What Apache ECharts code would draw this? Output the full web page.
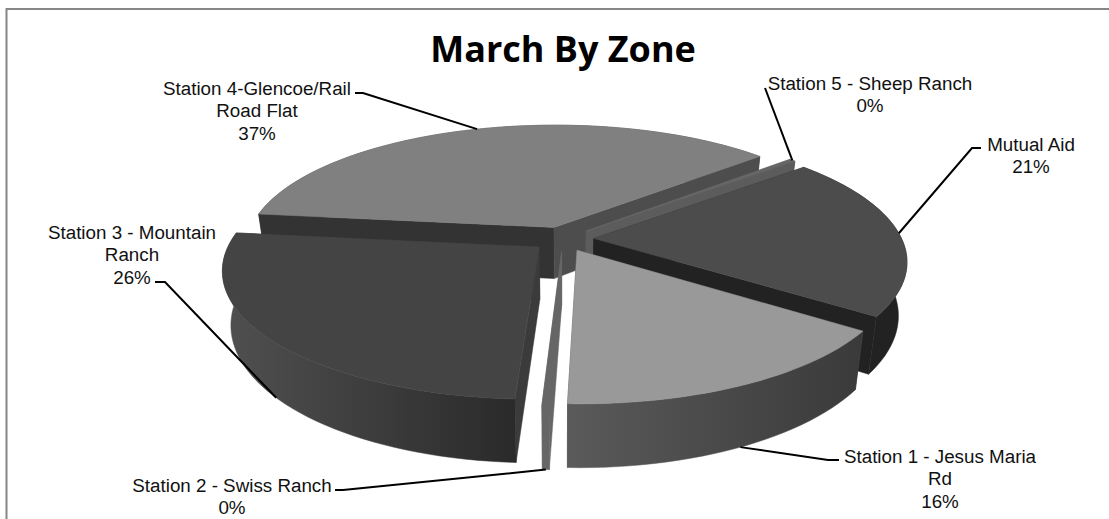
<!DOCTYPE html>
<html>
<head>
<meta charset="utf-8">
<style>html,body{margin:0;padding:0;background:#fff}#chart{width:1109px;height:519px}</style>
<script src="https://cdn.jsdelivr.net/npm/echarts@6/dist/echarts.min.js"></script>
</head>
<body>
<div id="chart"></div>
<script>
const categories = ['Station 1 - Jesus Maria\nRd', 'Station 2 - Swiss Ranch', 'Station 3 - Mountain\nRanch', 'Station 4-Glencoe/Rail\nRoad Flat', 'Station 5 - Sheep Ranch', 'Mutual Aid']
const values = [15.8, 0.3, 26.0, 36.7, 0.4, 20.8]

// back to front
const drawOrder = [3, 4, 5, 2, 0, 1]
const topColors = ['#999999', '#666666', '#444444', '#808080', '#666666', '#4c4c4c']
const arcColors = [['#5a5a5a', '#3a3a3a'], ['#666666', '#666666'], ['#505050', '#2a2a2a'], ['#4d4d4d', '#4d4d4d'], ['#5c5c5c', '#5c5c5c'], ['#222222', '#222222']]
const startEdgeColors = ['#555555', '#666666', '#3b3b3b', '#333333', '#5c5c5c', '#3a3a3a']
const endEdgeColors = ['#555555', '#666666', '#3b3b3b', '#4d4d4d', '#5c5c5c', '#222222']

// label placement: text centre x, first line y, then leader elbow points
const labelBoxes = [
  { x: 940, y: 445, leader: [[828, 460], [839, 460]], base: true },
  { x: 232, y: 474, leader: [[343, 490], [335, 490]], base: true },
  { x: 132, y: 221, leader: [[165, 282], [155, 282]], base: true },
  { x: 257, y: 77, leader: [[363, 93], [355, 93]], base: false },
  { x: 870, y: 72, leader: [[765, 88]], base: false },
  { x: 1031, y: 133, leader: [[972, 148], [981, 148]], base: false }
]

// pie projection
const firstAngle = 125
const centerX = 563
const centerY = 239
const radiusX = 308
const radiusY = 123.3
const perspective = 0.17
const depth = 52
const baseShrink = 0.025
const explode = 0.1

const total = values.reduce((a, b) => a + b, 0)
const angles = []
let acc = firstAngle
values.forEach((v) => {
  const end = acc + (v / total) * 360
  angles.push([acc, end])
  acc = end
})

const toRad = (d) => (d * Math.PI) / 180

const project = (mid, angle, r, h) => {
  const u = explode * Math.sin(toRad(mid)) + r * Math.sin(toRad(angle))
  const v = -explode * Math.cos(toRad(mid)) - r * Math.cos(toRad(angle))
  const s = 1 / (1 - perspective * v)
  return [centerX + radiusX * u * s * (1 - baseShrink * h), centerY + radiusY * v * s + depth * h * s]
}

const arcPoints = (mid, a0, a1, h) => {
  const pts = []
  const n = Math.max(2, Math.ceil((a1 - a0) / 2))
  for (let i = 0; i <= n; i++) {
    pts.push(project(mid, a0 + ((a1 - a0) * i) / n, 1, h))
  }
  return pts
}

const fillOf = (pair) =>
  new echarts.graphic.LinearGradient(0, 0, 1, 0, [
    { offset: 0, color: pair[0] },
    { offset: 1, color: pair[1] }
  ])

const poly = (points, fill, z2) => ({
  type: 'polygon',
  shape: { points },
  style: { fill, stroke: fill, lineWidth: 0.5 },
  z2
})

const renderSlice = (params, api) => {
  const i = api.value(0)
  const [a0, a1] = angles[i]
  const mid = (a0 + a1) / 2
  const order = drawOrder.indexOf(i) * 10
  const apexTop = project(mid, a0, 0, 0)
  const apexBase = project(mid, a0, 0, 1)
  const top = arcPoints(mid, a0, a1, 0)
  const base = arcPoints(mid, a0, a1, 1)
  // a rim facing away has to sit behind the cut walls
  const rimFacesBack = Math.cos(toRad(mid)) > 0.5
  return {
    type: 'group',
    children: [
      poly([apexTop, top[0], base[0], apexBase], startEdgeColors[i], order + 1),
      poly([apexTop, top[top.length - 1], base[base.length - 1], apexBase], endEdgeColors[i], order + 2),
      poly(top.concat(base.slice().reverse()), fillOf(arcColors[i]), order + (rimFacesBack ? 0 : 3)),
      poly([apexTop].concat(top), topColors[i], order + 4)
    ]
  }
}

const renderLabel = (params, api) => {
  const i = api.value(0)
  const [a0, a1] = angles[i]
  const mid = (a0 + a1) / 2
  const box = labelBoxes[i]
  const anchor = project(mid, mid, 1, box.base ? 1 : 0)
  return {
    type: 'group',
    children: [
      {
        type: 'polyline',
        shape: { points: [anchor].concat(box.leader) },
        style: { stroke: '#000', lineWidth: 2, fill: null },
        z2: 100
      },
      {
        type: 'text',
        style: {
          text: categories[i] + '\n' + Math.round((values[i] / total) * 100) + '%',
          x: box.x,
          y: box.y,
          align: 'center',
          verticalAlign: 'top',
          fill: '#111',
          font: '18.8px "Liberation Sans"',
          lineHeight: 22.5
        },
        z2: 101
      }
    ]
  }
}

const rows = values.map((v, i) => [i, v])

const options = {
  backgroundColor: '#fff',
  animation: false,
  title: {
    text: 'March By Zone',
    left: 558,
    textAlign: 'center',
    top: 25,
    textStyle: { fontFamily: 'Open Sans', fontWeight: 'bold', fontSize: 36, color: '#000' }
  },
  graphic: [
    {
      type: 'rect',
      shape: { x: 6.5, y: 9, width: 1120, height: 530 },
      style: { fill: null, stroke: '#868686', lineWidth: 2 },
      silent: true
    }
  ],
  tooltip: { show: false },
  legend: { show: false },
  series: [
    { type: 'custom', coordinateSystem: 'none', renderItem: renderSlice, data: rows, silent: true, z: 2 },
    { type: 'custom', coordinateSystem: 'none', renderItem: renderLabel, data: rows, silent: true, z: 3 }
  ]
}

const chartInstance = echarts.init(document.getElementById('chart'), null, { renderer: 'svg' })
chartInstance.setOption(options)
</script>
</body>
</html>
